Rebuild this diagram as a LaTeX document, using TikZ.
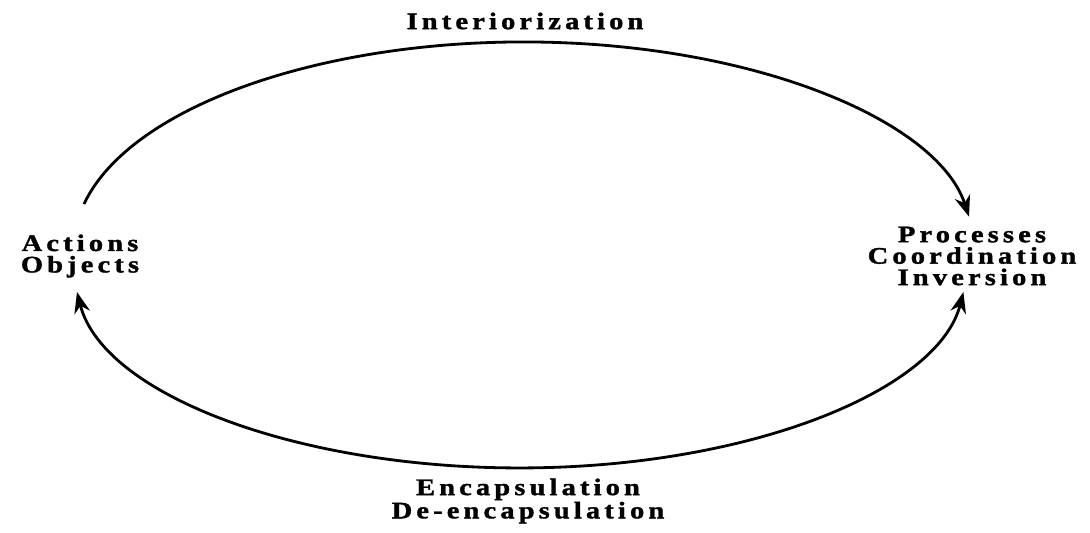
\documentclass[tikz,border=0pt]{standalone}
\usepackage{fontspec}
\usepackage{tikz}
\usetikzlibrary{positioning,arrows.meta}
\newfontfamily\cyclefont{Liberation Serif}[LetterSpace=17.5,FakeStretch=1.2,FakeBold=1.5]

\begin{document}
\begin{tikzpicture}[x=0.02cm, y=0.02cm,
  label/.style={font=\cyclefont\bfseries\fontsize{13.5}{12.2}\selectfont,
                align=center, inner sep=0pt, text=black},
  arc/.style={line width=1.6pt, color=black},
  arrow/.style={arc, -{Stealth[length=12pt, width=9pt]}},
  twoway/.style={arc, {Stealth[length=12pt, width=9pt]}-{Stealth[length=12pt, width=9pt]}}
]
\useasboundingbox (0,0) rectangle (1090,532);

\node[label] (inter) at (525,511) {Interiorization};
\node[label] (act) at (80,276) {Actions\\Objects};
\node[label] (proc) at (972,276) {Processes\\Coordination\\Inversion};
\node[label] (enc) at (528,31) {Encapsulation\\De-encapsulation};

\coordinate (topstart) at (84,328);
\coordinate (botstart) at (77,240);

\draw[arrow] (topstart) arc[start angle=167.9, end angle=8.5, x radius=450, y radius=205];
\draw[twoway] (botstart) arc[start angle=186.4, end angle=353.6, x radius=446, y radius=198];

\end{tikzpicture}
\end{document}
